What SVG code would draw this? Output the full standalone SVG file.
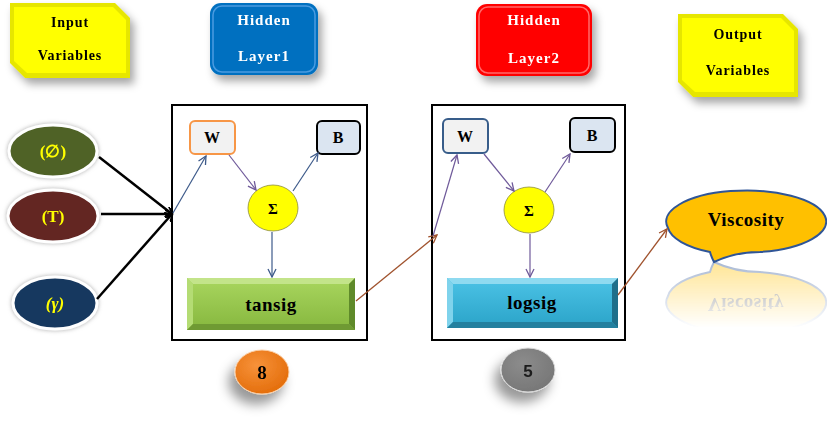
<svg xmlns="http://www.w3.org/2000/svg" width="827" height="425" viewBox="0 0 827 425">
<defs>
<style>
.lbl{font-family:"Liberation Serif","Times New Roman",serif;font-weight:bold;text-anchor:middle}
.hdr{font-size:14px;letter-spacing:0.9px}
.hdw{font-size:15px;letter-spacing:1px}
.wt{fill:#ffffff}
.bk{fill:#000000}
.yl{fill:#ffff00;font-size:17px}
.blk{fill:none;stroke:#000;stroke-width:2}
.inarr{stroke:#000;stroke-width:2.5;fill:none;marker-end:url(#ab)}
.blue{stroke:#3d5a8a;stroke-width:1.2;fill:none;marker-end:url(#abl)}
.purp{stroke:#6f5a9a;stroke-width:1.2;fill:none;marker-end:url(#ap)}
.brn{stroke:#a0522d;stroke-width:1.3;fill:none;marker-end:url(#abr)}
</style>
<marker id="ab" markerWidth="8" markerHeight="8" refX="7" refY="4" orient="auto" markerUnits="userSpaceOnUse"><path d="M0,0 L8,4 L0,8" fill="none" stroke="#000" stroke-width="2"/></marker>
<marker id="abl" markerWidth="10" markerHeight="10" refX="9" refY="5" orient="auto" markerUnits="userSpaceOnUse"><path d="M1,1 L9,5 L1,9" fill="none" stroke="#3d5a8a" stroke-width="1.3"/></marker>
<marker id="ap" markerWidth="10" markerHeight="10" refX="9" refY="5" orient="auto" markerUnits="userSpaceOnUse"><path d="M1,1 L9,5 L1,9" fill="none" stroke="#6f5a9a" stroke-width="1.3"/></marker>
<marker id="abr" markerWidth="10" markerHeight="10" refX="9" refY="5" orient="auto" markerUnits="userSpaceOnUse"><path d="M1,1 L9,5 L1,9" fill="none" stroke="#a0522d" stroke-width="1.3"/></marker>
<filter id="sh" x="-30%" y="-30%" width="170%" height="180%"><feDropShadow dx="4" dy="6" stdDeviation="4" flood-color="#000" flood-opacity="0.35"/></filter>
<filter id="sh2" x="-60%" y="-60%" width="220%" height="240%"><feDropShadow dx="-6" dy="10" stdDeviation="6" flood-color="#000" flood-opacity="0.4"/></filter>
<filter id="glow" x="-20%" y="-20%" width="140%" height="140%"><feDropShadow dx="0" dy="0" stdDeviation="2" flood-color="#888" flood-opacity="0.7"/></filter>
<linearGradient id="gG" x1="0" y1="0" x2="0" y2="1"><stop offset="0" stop-color="#a9d65f"/><stop offset="1" stop-color="#86b73e"/></linearGradient>
<linearGradient id="gB" x1="0" y1="0" x2="0" y2="1"><stop offset="0" stop-color="#4cc3e6"/><stop offset="1" stop-color="#2aa3c8"/></linearGradient>
<linearGradient id="fade" x1="0" y1="0" x2="0" y2="1"><stop offset="0" stop-color="#fff" stop-opacity="0.55"/><stop offset="1" stop-color="#fff" stop-opacity="0"/></linearGradient>
<mask id="rm" maskUnits="userSpaceOnUse" x="650" y="255" width="177" height="80"><rect x="650" y="258" width="177" height="70" fill="url(#fade)"/></mask>
<radialGradient id="gO" cx="0.4" cy="0.35" r="0.7"><stop offset="0" stop-color="#f7923a"/><stop offset="1" stop-color="#e36c09"/></radialGradient>
<radialGradient id="gGr" cx="0.4" cy="0.35" r="0.7"><stop offset="0" stop-color="#8c8c8c"/><stop offset="1" stop-color="#767676"/></radialGradient>
</defs>
<rect width="827" height="425" fill="#ffffff"/>

<g id="input-variables" filter="url(#sh)">
<polygon points="10,3 115,3 130,18 130,78 25,78 10,63" fill="#e6e600"/>
<polygon points="14,7 113,7 126,20 126,73 27,73 14,61" fill="#ffff00"/>
<text class="lbl hdr bk" x="70" y="27">Input</text>
<text class="lbl hdr bk" x="70" y="60">Variables</text>
</g>

<g id="hidden-layer1" filter="url(#sh)">
<rect x="210" y="3" width="108" height="72" rx="11" fill="#0070c0"/>
<rect x="213" y="6" width="102" height="66" rx="9" fill="none" stroke="#4a9be0" stroke-width="1.5"/>
<text class="lbl hdw wt" x="264" y="25">Hidden</text>
<text class="lbl hdw wt" x="264" y="61">Layer1</text>
</g>

<g id="hidden-layer2" filter="url(#sh)">
<rect x="476" y="4" width="116" height="72" rx="11" fill="#ff0000"/>
<rect x="479" y="7" width="110" height="66" rx="9" fill="none" stroke="#ff6a6a" stroke-width="1.5"/>
<text class="lbl hdw wt" x="534" y="25">Hidden</text>
<text class="lbl hdw wt" x="534" y="63">Layer2</text>
</g>

<g id="output-variables" filter="url(#sh)">
<polygon points="678,14 783,14 798,29 798,97 693,97 678,82" fill="#e6e600"/>
<polygon points="682,18 781,18 794,31 794,92 695,92 682,80" fill="#ffff00"/>
<text class="lbl hdr bk" x="738" y="39">Output</text>
<text class="lbl hdr bk" x="738" y="75">Variables</text>
</g>

<g id="in-phi" filter="url(#glow)">
<ellipse cx="53" cy="151" rx="44" ry="26" fill="#4f6228" stroke="#ffffff" stroke-width="3"/>
<text class="lbl yl" x="53" y="157">(∅)</text>
</g>
<g id="in-T" filter="url(#glow)">
<ellipse cx="53" cy="216" rx="45" ry="26" fill="#632523" stroke="#ffffff" stroke-width="3"/>
<text class="lbl yl" x="53" y="222">(T)</text>
</g>
<g id="in-gamma" filter="url(#glow)">
<ellipse cx="55" cy="303" rx="42" ry="26" fill="#17375e" stroke="#ffffff" stroke-width="3"/>
<text class="lbl yl" x="55" y="309" font-style="italic">(γ)</text>
</g>

<g id="layer1-box"><rect class="blk" x="172" y="105" width="195" height="235"/></g>
<g id="layer2-box"><rect class="blk" x="432" y="105" width="193" height="235"/></g>

<g id="w1">
<rect x="190" y="121" width="45" height="33" rx="5" fill="#f2f2f2" stroke="#f79646" stroke-width="2"/>
<text class="lbl bk" x="212" y="143" font-size="16">W</text>
</g>
<g id="b1">
<rect x="317" y="121" width="43" height="33" rx="5" fill="#dbe5f1" stroke="#000" stroke-width="2"/>
<text class="lbl bk" x="338" y="143" font-size="16">B</text>
</g>
<g id="sum1">
<ellipse cx="273" cy="208" rx="25" ry="23" fill="#ffff00" stroke="#8c8c40" stroke-width="0.8"/>
<text class="lbl bk" x="273" y="214" font-size="15">Σ</text>
</g>
<g id="tansig">
<rect x="187" y="278" width="168" height="52" fill="url(#gG)"/>
<polygon points="187,278 355,278 349,284 193,284" fill="#c3e48a"/>
<polygon points="187,278 193,284 193,324 187,330" fill="#b4dc74"/>
<polygon points="355,278 355,330 349,324 349,284" fill="#5f8a2a"/>
<polygon points="187,330 355,330 349,324 193,324" fill="#6f9a33"/>
<text class="lbl bk" x="271" y="311" font-size="19" letter-spacing="0.5">tansig</text>
</g>

<g id="w2">
<rect x="443" y="119" width="45" height="34" rx="5" fill="#f2f2f2" stroke="#385d8a" stroke-width="2"/>
<text class="lbl bk" x="465" y="142" font-size="16">W</text>
</g>
<g id="b2">
<rect x="570" y="118" width="45" height="34" rx="5" fill="#dbe5f1" stroke="#000" stroke-width="2"/>
<text class="lbl bk" x="592" y="141" font-size="16">B</text>
</g>
<g id="sum2">
<ellipse cx="529" cy="210" rx="25" ry="23" fill="#ffff00" stroke="#8c8c40" stroke-width="0.8"/>
<text class="lbl bk" x="529" y="216" font-size="15">Σ</text>
</g>
<g id="logsig">
<rect x="447" y="278" width="171" height="50" fill="url(#gB)"/>
<polygon points="447,278 618,278 612,284 453,284" fill="#8fdaf0"/>
<polygon points="447,278 453,284 453,322 447,328" fill="#7fd3ec"/>
<polygon points="618,278 618,328 612,322 612,284" fill="#1f6f8a"/>
<polygon points="447,328 618,328 612,322 453,322" fill="#23809f"/>
<text class="lbl bk" x="532" y="309" font-size="19" letter-spacing="0.5">logsig</text>
</g>

<g id="viscosity">
<path d="M668,228 A80,31 0 1 1 760,252 Q735,252 714,262 Q711,256 710,252 A80,31 0 0 1 668,228 Z" fill="#ffc000" stroke="#2f5597" stroke-width="2"/>
<text class="lbl bk" x="746" y="226" font-size="19" letter-spacing="0.5">Viscosity</text>
<g mask="url(#rm)" opacity="0.8">
<g transform="translate(0,524) scale(1,-1)">
<path d="M668,228 A80,31 0 1 1 760,252 Q735,252 714,262 Q711,256 710,252 A80,31 0 0 1 668,228 Z" fill="#ffc000" stroke="#2f5597" stroke-width="2"/>
<text class="lbl bk" x="746" y="226" font-size="19" letter-spacing="0.5">Viscosity</text>
</g>
</g>
</g>

<g id="neurons8" filter="url(#sh2)">
<ellipse cx="262" cy="372" rx="27" ry="22" fill="url(#gO)" stroke="#fbd0a8" stroke-width="1"/>
<text class="lbl bk" x="262" y="379" font-size="19">8</text>
</g>
<g id="neurons5" filter="url(#sh2)">
<ellipse cx="528" cy="370" rx="27" ry="22" fill="url(#gGr)" stroke="#dddddd" stroke-width="1"/>
<text x="528" y="377" font-size="17" font-weight="bold" text-anchor="middle" fill="#1a1a1a" font-family="Liberation Sans, Arial, sans-serif">5</text>
</g>

<g id="connectors">
<line class="inarr" x1="99" y1="157" x2="172" y2="214"/>
<line class="inarr" x1="101" y1="214" x2="172" y2="214"/>
<line class="inarr" x1="97" y1="299" x2="172" y2="214"/>
<line class="blue" x1="173" y1="213" x2="206" y2="156"/>
<line class="purp" x1="229" y1="155" x2="256" y2="190"/>
<line class="blue" x1="293" y1="191" x2="318" y2="153"/>
<line class="blue" x1="272" y1="232" x2="272" y2="277"/>
<line class="brn" x1="356" y1="301" x2="437" y2="235"/>
<line class="purp" x1="433" y1="236" x2="457" y2="155"/>
<line class="purp" x1="484" y1="154" x2="514" y2="191"/>
<line class="purp" x1="545" y1="192" x2="570" y2="154"/>
<line class="purp" x1="530" y1="234" x2="530" y2="277"/>
<line class="brn" x1="618" y1="295" x2="667" y2="229"/>
</g>
</svg>
